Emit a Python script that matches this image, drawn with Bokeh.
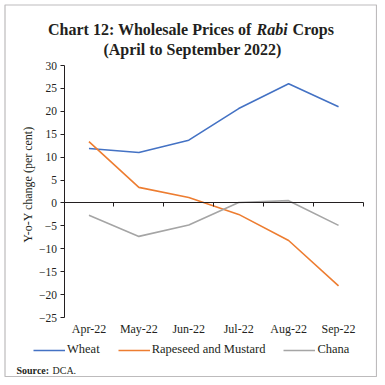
from bokeh.plotting import figure
from bokeh.models import (Range1d, FixedTicker, Legend, LegendItem, Label, LinearAxis,
                          BoxAnnotation)
from bokeh.embed import file_html
from bokeh.resources import INLINE
import numpy as np

months = ["Apr-22", "May-22", "Jun-22", "Jul-22", "Aug-22", "Sep-22"]
wheat = [11.9, 11.0, 13.7, 20.6, 26.0, 21.0]
rapeseed = [13.4, 3.4, 1.2, -2.5, -8.2, -18.1]
chana = [-2.7, -7.3, -4.8, 0.1, 0.5, -4.9]
y_ticks = list(range(-25, 31, 5))

SERIF = "Liberation Serif"
INK = "#231f20"
W, H = 377, 377
# pixel geometry of the plotting area (figure pixels)
PX_L, PX_R = 63.5, 363.0   # x = -0.5 .. n-0.5
PY_T, PY_B = 65.0, 317.0   # y = 30 .. -25
n = len(months)
x = np.arange(n)
ppx = (PX_R - PX_L) / n
ppy = (PY_B - PY_T) / (y_ticks[-1] - y_ticks[0])

def dx(px):
    return -0.5 + (px - PX_L) / ppx

def dy(py):
    return y_ticks[-1] - (py - PY_T) / ppy

p = figure(width=W, height=H, output_backend="svg", toolbar_location=None,
           x_range=Range1d(dx(0), dx(W)), y_range=Range1d(dy(H), dy(0)),
           x_axis_location=None, y_axis_location="left",
           min_border_left=0, min_border_right=0, min_border_top=0, min_border_bottom=0)
p.outline_line_color = None
p.grid.visible = False
p.background_fill_color = "white"

# outer frame of the chart
p.add_layout(BoxAnnotation(left=dx(4.5), right=dx(376), top=dy(4.5), bottom=dy(376),
                           fill_alpha=0, line_color=INK, line_width=1.2))

ya = p.yaxis[0]
ya.fixed_location = -0.5
ya.bounds = (y_ticks[0], y_ticks[-1])
ya.ticker = FixedTicker(ticks=y_ticks)
ya.axis_line_color = INK
ya.major_tick_line_color = INK
ya.major_tick_in = 0
ya.major_tick_out = 4
ya.minor_tick_line_color = None
ya.major_label_text_font = SERIF
ya.major_label_text_font_size = "11.5px"
ya.major_label_text_color = INK
ya.major_label_standoff = 3

bounds = np.arange(n + 1) - 0.5
zero_axis = LinearAxis(fixed_location=0, bounds=(bounds[0], bounds[-1]),
                       ticker=FixedTicker(ticks=list(bounds)),
                       axis_line_color=INK, major_tick_line_color=INK,
                       major_tick_in=0, major_tick_out=4, minor_tick_line_color=None,
                       major_label_text_font_size="0px", major_label_text_alpha=0)
p.add_layout(zero_axis, "below")

cat_axis = LinearAxis(fixed_location=y_ticks[0], ticker=FixedTicker(ticks=list(x)),
                      major_label_overrides={int(i): m for i, m in zip(x, months)},
                      axis_line_color=None, major_tick_line_color=None,
                      minor_tick_line_color=None, major_tick_in=0, major_tick_out=0,
                      major_label_text_font=SERIF, major_label_text_font_size="12px",
                      major_label_text_color=INK, major_label_standoff=4)
p.add_layout(cat_axis, "below")

r1 = p.line(x, wheat, line_color="#4472C4", line_width=1.6)
r2 = p.line(x, rapeseed, line_color="#ED7D31", line_width=1.6)
r3 = p.line(x, chana, line_color="#A5A5A5", line_width=1.6)

legend = Legend(items=[LegendItem(label="Wheat", renderers=[r1]),
                       LegendItem(label="Rapeseed and Mustard", renderers=[r2]),
                       LegendItem(label="Chana", renderers=[r3])],
                location=(33, H - 357), orientation="horizontal",
                padding=0, margin=0, spacing=18, glyph_width=32, glyph_height=14,
                label_height=14, label_standoff=2, label_text_font=SERIF,
                label_text_font_size="12.5px", label_text_color=INK,
                border_line_color=None, background_fill_alpha=0)
p.add_layout(legend, "center")

def lab(text, px, py, size, style="normal", align="left", baseline="alphabetic", angle=0):
    p.add_layout(Label(x=px, y=H - py, x_units="screen", y_units="screen",
                       text=text, text_font=SERIF, text_font_size=size,
                       text_font_style=style, text_align=align, angle=angle,
                       text_baseline=baseline, text_color=INK))

lab("Chart 12: Wholesale Prices of", 251, 29, "16px", "bold", "right")
lab("Rabi", 256, 29, "16px", "bold italic")
lab("Crops", 292, 29, "16px", "bold")
lab("(April to September 2022)", 192, 49, "16px", "bold", "center")
lab("Y-o-Y change (per cent)", 27.5, 184, "12px", "normal", "center", "middle", np.pi / 2)
lab("Source:", 16, 370, "10px", "bold")
lab("DCA.", 52, 370, "10px", "normal")

open("out.html", "w").write(file_html(p, INLINE))
